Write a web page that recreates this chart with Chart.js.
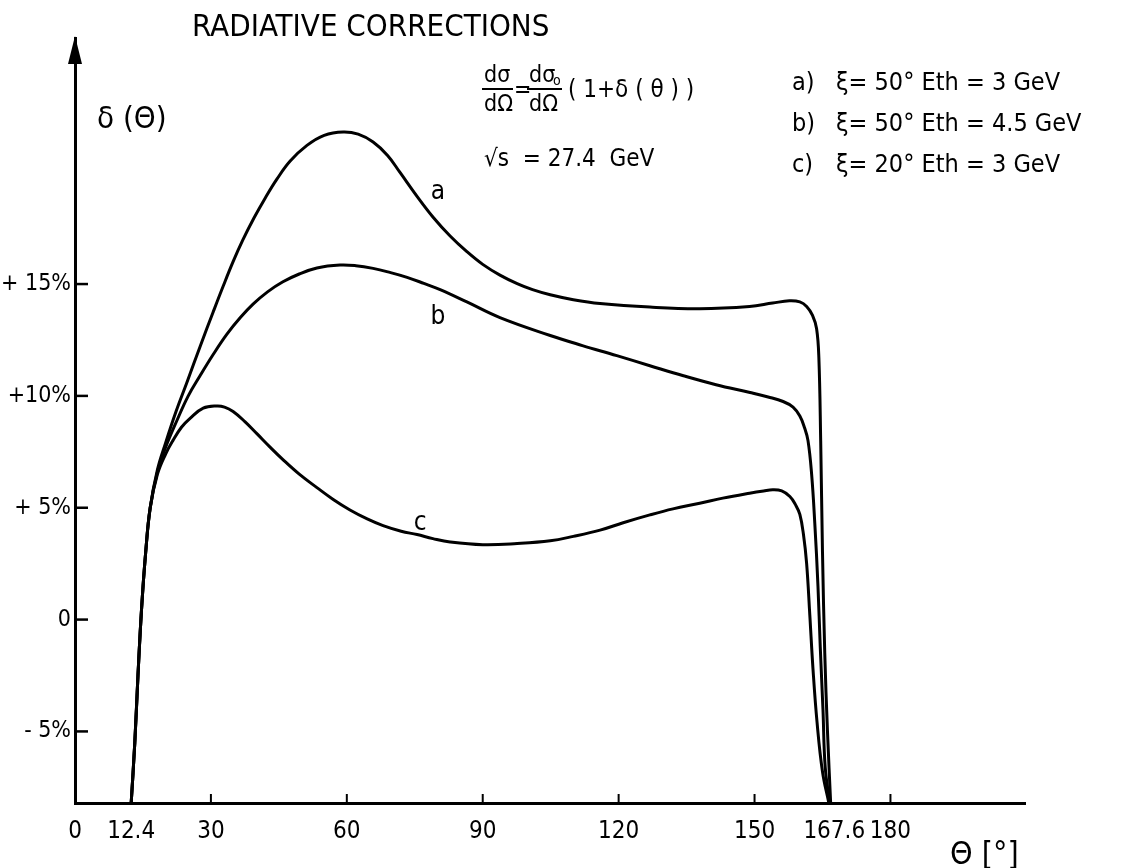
<!DOCTYPE html>
<html>
<head>
<meta charset="utf-8">
<script src="https://cdn.jsdelivr.net/npm/chart.js@4.4.1/dist/chart.umd.min.js"></script>
<style>
	html, body { margin: 0; padding: 0; background: #fff; }
	#wrap { position: relative; width: 1124px; height: 868px; }
</style>
</head>
<body>
<div id="wrap"><canvas id="chart" width="1124" height="868"></canvas></div>
<script>
const FONT = "'DejaVu Sans Condensed', 'Liberation Sans Narrow', 'DejaVu Sans', sans-serif";

// axis ticks
const xTicks = [0, 12.4, 30, 60, 90, 120, 150, 167.6, 180];
const xTickMarks = [30, 60, 90, 120, 150, 180];
const yTicks = [-5, 0, 5, 10, 15];
const yTickLabels = ["- 5%", "0", "+ 5%", "+10%", "+ 15%"];

// curve a) xi = 50 deg, Eth = 3 GeV
const thetaA = [12.4, 13.2, 13.9, 14.7, 15.6, 16.6, 18.2, 20, 22.3, 24.7, 27.6, 30.5, 32.7, 34.9, 37, 39.5, 42, 44.6, 47.5, 51.2, 55, 59.2, 62.5, 65.8, 69, 71.7, 75.5, 79, 82.8, 86.5, 90, 93.8, 97.6, 101, 104.9, 110, 115.9, 126.9, 137.9, 148.9, 154, 157.7, 160, 161.5, 162.8, 163.7, 164.2, 164.6, 165, 165.5, 166.1, 166.8];
const deltaA = [-8.2, -5.5, -2.5, 0.5, 3, 5, 6.7, 7.9, 9.3, 10.6, 12.2, 13.75, 14.9, 16.0, 16.95, 17.95, 18.85, 19.7, 20.5, 21.2, 21.65, 21.8, 21.7, 21.35, 20.75, 20.0, 18.92, 18.0, 17.15, 16.45, 15.88, 15.4, 15.02, 14.75, 14.52, 14.3, 14.13, 13.97, 13.9, 14.0, 14.15, 14.25, 14.2, 14.0, 13.6, 13.0, 11.7, 8, 3, -1.5, -5, -8.2];

// curve b) xi = 50 deg, Eth = 4.5 GeV
const thetaB = [12.4, 13.2, 13.9, 14.7, 15.6, 16.6, 18.2, 20, 22.5, 25, 27.6, 30.5, 33.5, 36.5, 39.3, 42.5, 45.9, 49.5, 53.4, 58.5, 62, 65.8, 69.5, 73.3, 77, 80.6, 86.5, 93.8, 104.9, 112, 119.6, 126.9, 134.3, 141.5, 149, 153, 156.3, 158.5, 160, 161, 161.8, 162.6, 163.3, 164, 164.5, 165.1, 165.6, 166.6];
const deltaB = [-8.2, -5.5, -2.5, 0.5, 3, 5, 6.6, 7.7, 8.9, 10.0, 10.9, 11.85, 12.75, 13.5, 14.1, 14.65, 15.1, 15.45, 15.72, 15.85, 15.82, 15.7, 15.52, 15.3, 15.03, 14.75, 14.2, 13.5, 12.7, 12.25, 11.8, 11.35, 10.9, 10.5, 10.15, 9.95, 9.75, 9.5, 9.1, 8.6, 8.0, 6.5, 4.3, 1.5, -1.2, -4, -6.6, -8.2];

// curve c) xi = 20 deg, Eth = 3 GeV
const thetaC = [12.4, 13.2, 13.9, 14.7, 15.6, 16.6, 18.2, 20, 21.6, 23.5, 25.4, 28.3, 31.3, 33, 34.9, 37.5, 40.2, 43, 45.9, 49.5, 53.4, 57, 60.7, 64.5, 68, 72, 75.5, 79, 82.8, 90, 97.6, 104.9, 110, 115.9, 121, 126.9, 132, 137.9, 143, 148.9, 152, 154, 156, 157.8, 159, 160, 160.8, 161.5, 162.2, 162.9, 163.8, 165, 166.4];
const deltaC = [-8.2, -5.5, -2.5, 0.5, 3, 5, 6.5, 7.4, 8.0, 8.6, 9.0, 9.45, 9.55, 9.5, 9.3, 8.85, 8.3, 7.72, 7.15, 6.5, 5.9, 5.37, 4.9, 4.5, 4.2, 3.95, 3.8, 3.62, 3.47, 3.35, 3.4, 3.52, 3.72, 4.0, 4.33, 4.68, 4.95, 5.2, 5.43, 5.65, 5.75, 5.8, 5.75, 5.5, 5.15, 4.7, 3.8, 2.5, 0.2, -2.2, -4.6, -6.8, -8.2];

// curve labels drawn at data positions
const curveNames = ["a", "b", "c"];
const curveLabelX = [80.1, 80.1, 76.2];
const curveLabelY = [19.1, 13.5, 4.3];

// legend lines
const legendKeys = ["a)", "b)", "c)"];
const legendTexts = ["ξ= 50° Eth = 3 GeV", "ξ= 50° Eth = 4.5 GeV", "ξ= 20° Eth = 3 GeV"];

function toPoints(xs, ys) {
	return xs.map((x, i) => ({ x: x, y: ys[i] }));
}

function drawFraction(ctx, top, bottom, x, width, y) {
	ctx.fillText(top, x + 2, y - 7);
	ctx.fillText(bottom, x + 2, y + 22);
	ctx.beginPath();
	ctx.moveTo(x, y);
	ctx.lineTo(x + width, y);
	ctx.stroke();
}

const decorations = {
	id: "decorations",
	afterDraw(chart) {
		const ctx = chart.ctx;
		const area = chart.chartArea;
		const xs = chart.scales.x;
		const ys = chart.scales.y;
		ctx.save();
		ctx.strokeStyle = "#000";
		ctx.fillStyle = "#000";
		ctx.lineWidth = 2.5;

		// arrow at the top of the y axis
		ctx.beginPath();
		ctx.moveTo(area.left, area.top - 2);
		ctx.lineTo(area.left - 7, area.top + 26);
		ctx.lineTo(area.left + 7, area.top + 26);
		ctx.closePath();
		ctx.fill();

		// y tick marks (inside)
		yTicks.forEach(v => {
			const py = ys.getPixelForValue(v);
			ctx.beginPath();
			ctx.moveTo(area.left, py);
			ctx.lineTo(area.left + 13, py);
			ctx.stroke();
		});
		// x tick marks (upward)
		ctx.lineWidth = 2;
		xTickMarks.forEach(v => {
			const px = xs.getPixelForValue(v);
			ctx.beginPath();
			ctx.moveTo(px, area.bottom);
			ctx.lineTo(px, area.bottom - 9);
			ctx.stroke();
		});

		// curve names
		ctx.font = "26px " + FONT;
		ctx.textAlign = "center";
		ctx.textBaseline = "middle";
		curveNames.forEach((name, i) => {
			ctx.fillText(name, xs.getPixelForValue(curveLabelX[i]), ys.getPixelForValue(curveLabelY[i]));
		});

		ctx.textAlign = "left";
		ctx.textBaseline = "alphabetic";

		// title
		ctx.font = "31px " + FONT;
		ctx.fillText("RADIATIVE CORRECTIONS", 192, 36);

		// y axis name
		ctx.font = "31px " + FONT;
		ctx.fillText("δ (Θ)", 97, 128);

		// formula
		ctx.font = "23px " + FONT;
		ctx.lineWidth = 2;
		drawFraction(ctx, "dσ", "dΩ", 482, 31, 89);
		ctx.fillText("=", 514, 97);
		drawFraction(ctx, "dσ", "dΩ", 527, 35, 89);
		ctx.font = "14px " + FONT;
		ctx.fillText("o", 553, 85);
		ctx.font = "24px " + FONT;
		ctx.fillText("( 1+δ ( θ ) )", 568, 97);
		ctx.font = "24px " + FONT;
		ctx.fillText("√s  = 27.4  GeV", 484, 166);

		// legend
		ctx.font = "25px " + FONT;
		legendKeys.forEach((key, i) => {
			const by = 90 + i * 41;
			ctx.fillText(key, 792, by);
			ctx.fillText(legendTexts[i], 836, by);
		});

		// x axis name
		ctx.font = "32px " + FONT;
		ctx.fillText("Θ [°]", 950, 864);
		ctx.restore();
	}
};

const lineStyle = {
	borderColor: "#000",
	borderWidth: 3,
	pointRadius: 0,
	fill: false,
	tension: 0.4
};

const config = {
	type: "line",
	data: {
		datasets: [
			Object.assign({ label: "a", data: toPoints(thetaA, deltaA) }, lineStyle),
			Object.assign({ label: "b", data: toPoints(thetaB, deltaB) }, lineStyle),
			Object.assign({ label: "c", data: toPoints(thetaC, deltaC) }, lineStyle)
		]
	},
	options: {
		responsive: false,
		animation: false,
		devicePixelRatio: 1,
		layout: {
			padding: { top: 38, right: 99, left: 0, bottom: 0 }
		},
		plugins: {
			legend: { display: false },
			tooltip: { enabled: false },
			title: { display: false }
		},
		scales: {
			x: {
				type: "linear",
				min: 0,
				max: 209.7,
				afterBuildTicks: scale => {
					scale.ticks = xTicks.map(v => ({ value: v }));
				},
				afterFit: scale => {
					scale.height = 65;
				},
				grid: { display: false, drawTicks: false },
				border: { display: true, color: "#000", width: 3 },
				ticks: {
					autoSkip: false,
					maxRotation: 0,
					color: "#000",
					padding: 14,
					font: { family: FONT, size: 24 },
					callback: value => String(value)
				}
			},
			y: {
				type: "linear",
				min: -8.2,
				max: 26,
				afterBuildTicks: scale => {
					scale.ticks = yTicks.map(v => ({ value: v }));
				},
				afterFit: scale => {
					scale.width = 75;
				},
				grid: { display: false, drawTicks: false },
				border: { display: true, color: "#000", width: 3 },
				ticks: {
					color: "#000",
					padding: 4,
					font: { family: FONT, size: 23 },
					callback: value => yTickLabels[yTicks.indexOf(value)]
				}
			}
		}
	},
	plugins: [decorations]
};

document.addEventListener("DOMContentLoaded", _ => {
	const ctx = document.getElementById("chart").getContext("2d");
	new Chart(ctx, config);
});
</script>
</body>
</html>
